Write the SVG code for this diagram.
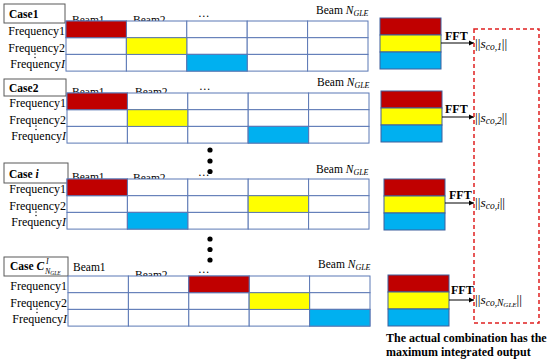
<svg xmlns="http://www.w3.org/2000/svg" width="550" height="363" viewBox="0 0 550 363" font-family="'Liberation Serif', 'Times New Roman', Times, 'DejaVu Serif', serif">
<defs>
<style>
text{font-family:'Liberation Serif','Times New Roman',Times,'DejaVu Serif',serif}
.lbl{fill:#fff;stroke:#595959;stroke-width:1}
.case{font-weight:bold;font-size:11.5px;fill:#000}
.beam{font-size:11.5px;fill:#000}
.freq{font-size:12px;fill:#000;text-anchor:end}
.cell{fill:#fff;stroke:#5b78b5;stroke-width:1}
.r{fill:#c00000}
.y{fill:#ffff00}
.b{fill:#00b0f0}
.stk{stroke:#3f5f9c;stroke-width:1}
.fft{font-weight:bold;font-size:12px;fill:#000}
.math{font-size:13.5px;fill:#000}
.it{font-style:italic}
.sub{font-size:8px;font-style:italic}
.msub{font-size:9.5px;font-style:italic}
.cap{font-weight:bold;font-size:12px;fill:#000}
.conn{stroke:#000;stroke-width:1;fill:none}
</style>
<marker id="ah" markerWidth="6" markerHeight="6" refX="5" refY="3" orient="auto" markerUnits="userSpaceOnUse">
<path d="M0,0.5 L5,3 L0,5.5 z" fill="#000"/>
</marker>
<g id="grid">
<rect class="cell" x="0" y="0" width="60.4" height="16.7"/>
<rect class="cell" x="60.4" y="0" width="60.4" height="16.7"/>
<rect class="cell" x="120.8" y="0" width="60.4" height="16.7"/>
<rect class="cell" x="181.2" y="0" width="60.4" height="16.7"/>
<rect class="cell" x="241.6" y="0" width="60.4" height="16.7"/>
<rect class="cell" x="0" y="16.7" width="60.4" height="16.7"/>
<rect class="cell" x="60.4" y="16.7" width="60.4" height="16.7"/>
<rect class="cell" x="120.8" y="16.7" width="60.4" height="16.7"/>
<rect class="cell" x="181.2" y="16.7" width="60.4" height="16.7"/>
<rect class="cell" x="241.6" y="16.7" width="60.4" height="16.7"/>
<rect class="cell" x="0" y="33.4" width="60.4" height="16.7"/>
<rect class="cell" x="60.4" y="33.4" width="60.4" height="16.7"/>
<rect class="cell" x="120.8" y="33.4" width="60.4" height="16.7"/>
<rect class="cell" x="181.2" y="33.4" width="60.4" height="16.7"/>
<rect class="cell" x="241.6" y="33.4" width="60.4" height="16.7"/>
</g>
<g id="freqs">
<text class="freq" x="-1" y="14">Frequency1</text>
<text class="freq" x="-1" y="30.5">Frequency2</text>
<text class="freq" x="-1" y="46.5">Frequency<tspan class="it">I</tspan></text>
<circle cx="-31" cy="33" r="0.7" fill="#000"/>
<circle cx="-31" cy="36.5" r="0.7" fill="#000"/>
</g>
<g id="stack">
<rect class="stk r" x="0" y="0" width="61" height="17"/>
<rect class="stk y" x="0" y="17" width="61" height="17"/>
<rect class="stk b" x="0" y="34" width="61" height="17"/>
</g>
</defs>
<rect width="550" height="363" fill="#fff"/>

<g id="case1">
<rect class="lbl" x="4" y="4" width="61" height="19"/>
<text class="case" x="9" y="18">Case1</text>
<text class="beam" x="72" y="24">Beam1</text>
<text class="beam" x="133" y="24">Beam2</text>
<text class="beam" x="198" y="17">…</text>
<text class="beam" x="316" y="14">Beam <tspan class="it">N</tspan><tspan class="sub" dy="2">GLE</tspan></text>
<g transform="translate(66,21)">
<use href="#grid"/>
<rect class="cell r" x="0" y="0" width="60.4" height="16.7"/>
<rect class="cell y" x="60.4" y="16.7" width="60.4" height="16.7"/>
<rect class="cell b" x="120.8" y="33.4" width="60.4" height="16.7"/>
<use href="#freqs"/>
</g>
<use href="#stack" transform="translate(380,18)"/>
</g>

<g id="case2">
<rect class="lbl" x="4" y="79" width="62" height="17"/>
<text class="case" x="9" y="92">Case2</text>
<text class="beam" x="72" y="96">Beam1</text>
<text class="beam" x="135" y="96">Beam2</text>
<text class="beam" x="199" y="90">…</text>
<text class="beam" x="317" y="86">Beam <tspan class="it">N</tspan><tspan class="sub" dy="2">GLE</tspan></text>
<g transform="translate(67,93)">
<use href="#grid"/>
<rect class="cell r" x="0" y="0" width="60.4" height="16.7"/>
<rect class="cell y" x="60.4" y="16.7" width="60.4" height="16.7"/>
<rect class="cell b" x="181.2" y="33.4" width="60.4" height="16.7"/>
<use href="#freqs"/>
</g>
<use href="#stack" transform="translate(381,91)"/>
</g>

<g id="dots1" fill="#000">
<circle cx="210" cy="150" r="2.6"/>
<circle cx="210" cy="161" r="2.6"/>
<circle cx="210" cy="171.5" r="2.6"/>
</g>

<g id="casei">
<rect class="lbl" x="4" y="163" width="64" height="20"/>
<text class="case" x="9" y="178">Case <tspan class="it">i</tspan></text>
<text class="beam" x="72" y="181">Beam1</text>
<text class="beam" x="133" y="182">Beam2</text>
<text class="beam" x="198" y="176">…</text>
<text class="beam" x="316" y="173">Beam <tspan class="it">N</tspan><tspan class="sub" dy="2">GLE</tspan></text>
<g transform="translate(67,179)">
<use href="#grid"/>
<rect class="cell r" x="0" y="0" width="60.4" height="16.7"/>
<rect class="cell y" x="181.2" y="16.7" width="60.4" height="16.7"/>
<rect class="cell b" x="60.4" y="33.4" width="60.4" height="16.7"/>
<use href="#freqs"/>
</g>
<use href="#stack" transform="translate(384,179)"/>
</g>

<g id="dots2" fill="#000">
<circle cx="210" cy="239" r="2.6"/>
<circle cx="210" cy="249.5" r="2.6"/>
<circle cx="210" cy="260" r="2.6"/>
</g>

<g id="caseN">
<rect class="lbl" x="4" y="257" width="64" height="19"/>
<text class="case" x="10" y="270" font-size="11px">Case <tspan class="it">C</tspan></text>
<text class="sub" x="46" y="264" font-size="7px">I</text>
<text class="sub" x="45" y="273.5" font-size="7px"><tspan>N</tspan><tspan font-size="5.5" dy="1">GLE</tspan></text>
<text class="beam" x="73" y="271">Beam1</text>
<text class="beam" x="135" y="279">Beam2</text>
<text class="beam" x="198" y="273">…</text>
<text class="beam" x="318" y="268">Beam <tspan class="it">N</tspan><tspan class="sub" dy="2">GLE</tspan></text>
<g transform="translate(68,276)">
<use href="#grid"/>
<rect class="cell r" x="120.8" y="0" width="60.4" height="16.7"/>
<rect class="cell y" x="181.2" y="16.7" width="60.4" height="16.7"/>
<rect class="cell b" x="241.6" y="33.4" width="60.4" height="16.7"/>
<use href="#freqs"/>
</g>
<use href="#stack" transform="translate(388,275)"/>
</g>

<g id="connectors">
<line class="conn" x1="441" y1="43" x2="474" y2="43" marker-end="url(#ah)"/>
<line class="conn" x1="442" y1="117" x2="474" y2="117" marker-end="url(#ah)"/>
<line class="conn" x1="445" y1="203" x2="474" y2="203" marker-end="url(#ah)"/>
<line class="conn" x1="449" y1="300" x2="474" y2="300" marker-end="url(#ah)"/>
</g>

<g id="labels">
<text class="fft" x="445" y="40">FFT</text>
<text class="fft" x="445" y="113">FFT</text>
<text class="fft" x="449" y="199">FFT</text>
<text class="fft" x="451" y="294">FFT</text>
<text class="math" x="475" y="48">||<tspan class="it">s</tspan><tspan class="msub" dy="2">co,1</tspan><tspan dy="-2">||</tspan></text>
<text class="math" x="475" y="122">||<tspan class="it">s</tspan><tspan class="msub" dy="2">co,2</tspan><tspan dy="-2">||</tspan></text>
<text class="math" x="475" y="207">||<tspan class="it">s</tspan><tspan class="msub" dy="2">co,i</tspan><tspan dy="-2">||</tspan></text>
<text class="math" x="475" y="304">||<tspan class="it">s</tspan><tspan class="msub" dy="2">co,N</tspan><tspan font-size="7" font-style="italic" dy="1">GLE</tspan><tspan dy="-3">||</tspan></text>
</g>

<g id="result">
<rect x="474" y="29" width="65" height="294" fill="none" stroke="#e02020" stroke-width="1.5" stroke-dasharray="4,3"/>
<text class="cap" x="386" y="342">The actual combination has the</text>
<text class="cap" x="386" y="356">maximum integrated output</text>
</g>
</svg>
